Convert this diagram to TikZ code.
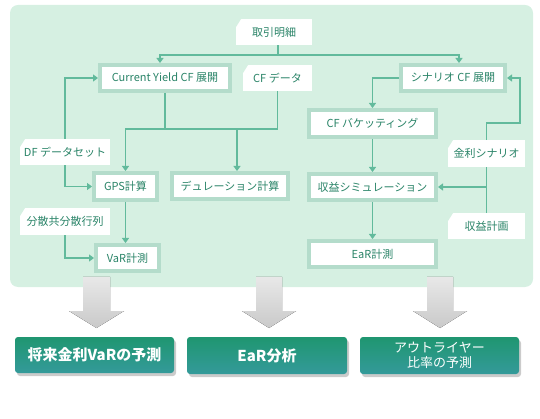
\documentclass[tikz,border=0pt]{standalone}
\usepackage{fontspec}
\setmainfont{Noto Sans CJK JP}
\usetikzlibrary{arrows.meta,shadows}
\definecolor{panel}{HTML}{D6F0E2}
\definecolor{frame}{HTML}{B4DCCB}
\definecolor{wirec}{HTML}{62BA9C}
\definecolor{ink}{HTML}{2A8468}
\definecolor{deep}{HTML}{1F9670}
\definecolor{pale}{HTML}{349A9A}

\begin{document}
\begin{tikzpicture}[x=1pt, y=-1pt,
	proc/.style={draw=frame, line width=4pt, fill=white, text=ink, inner sep=0pt, font=\fontsize{11pt}{12pt}\selectfont},
	src/.style={fill=white, text=ink, inner sep=0pt, font=\fontsize{11pt}{12pt}\selectfont,
		path picture={\fill[panel] (path picture bounding box.north west) -- ++(5pt,0) -- ++(-5pt,-8pt) -- cycle;}},
	result/.style={rounded corners=3pt, top color=deep, bottom color=pale, text=white, align=center, inner sep=0pt,
		minimum width=159pt, minimum height=36pt, font=\bfseries\fontsize{15pt}{17pt}\selectfont,
		drop shadow={shadow xshift=2pt, shadow yshift=-3pt, fill=black!45, opacity=.45}},
	wire/.style={draw=wirec, line width=1.2pt},
	flow/.style={wire, -{Triangle[width=7pt,length=5pt]}},
	bigarrow/.style={top color=black!9, bottom color=black!21}]
	\useasboundingbox (0,0) rectangle (540,419);
	\fill[panel, rounded corners=8pt] (10,5) rectangle (533,287);
	% gray arrows down to the results
	\fill[bigarrow] (83,277) -- (110,277) -- (110,311) -- (124,311) -- (96.5,328) -- (69,311) -- (83,311) -- cycle;
	\fill[bigarrow] (256,277) -- (282,277) -- (282,311) -- (296,311) -- (269,328) -- (242,311) -- (256,311) -- cycle;
	\fill[bigarrow] (427,277) -- (453,277) -- (453,311) -- (467,311) -- (440,328) -- (413,311) -- (427,311) -- cycle;
	% inputs
	\node[src, minimum width=76pt, minimum height=26pt] (trade) at (274,32) {取引明細};
	\node[src, minimum width=69pt, minimum height=26pt] (cfdata) at (277.5,78) {CF データ};
	\node[src, minimum width=90pt, minimum height=26pt] (dfset) at (65,152) {DF データセット};
	\node[src, minimum width=90pt, minimum height=27pt] (covmat) at (65,221.5) {分散共分散行列};
	\node[src, minimum width=77pt, minimum height=27pt] (rscen) at (486.5,153.5) {金利シナリオ};
	\node[src, minimum width=77pt, minimum height=26pt] (plan) at (486.5,226) {収益計画};
	% steps
	\node[proc, minimum width=130pt, minimum height=26pt] (cyield) at (165,78) {Current Yield CF 展開};
	\node[proc, minimum width=104pt, minimum height=26pt] (scen) at (453,78) {シナリオ CF 展開};
	\node[proc, minimum width=127pt, minimum height=27pt] (bucket) at (372.5,123.5) {CF バケッティング};
	\node[proc, minimum width=63pt, minimum height=27pt] (gps) at (125.5,186.5) {GPS計算};
	\node[proc, minimum width=116pt, minimum height=26pt] (dur) at (230,186) {デュレーション計算};
	\node[proc, minimum width=127pt, minimum height=26pt] (sim) at (372.5,187) {収益シミュレーション};
	\node[proc, minimum width=63pt, minimum height=26pt] (var) at (127.5,258) {VaR計測};
	\node[proc, minimum width=127pt, minimum height=26pt] (ear) at (372.5,254) {EaR計測};
	% results
	\node[result] (fvar) at (94.5,355) {将来金利VaRの予測};
	\node[result, minimum width=160pt, minimum height=37pt] (eara) at (267,355.5) {EaR分析};
	\node[result, minimum height=37pt, font=\fontsize{13pt}{14.5pt}\selectfont] (outl) at (439.5,355.5) {アウトライヤー\\比率の予測};
	% connectors
	\coordinate (tj) at (278,55);
	\coordinate (cj) at (164,129);
	\coordinate (rj) at (520,123);
	\draw[wire] ([xshift=4pt]trade.south) -- (tj);
	\draw[flow] (tj) -| ([xshift=-5pt]cyield.north);
	\draw[flow] (tj) -| ([xshift=6pt]scen.north);
	\draw[wire] (cyield.south) -- (cyield.south |- cj);
	\draw[flow] (cfdata.south) |- (gps.north |- cj) -- (gps.north);
	\draw[flow] ([xshift=7pt]dur.north |- cj) -- ([xshift=7pt]dur.north);
	\draw[flow] (dfset.north) |- (cyield.west);
	\draw[flow] (dfset.south) |- (gps.west);
	\draw[flow] (covmat.south) |- (var.west);
	\draw[flow] (gps.south) -- (gps.south |- var.north);
	\draw[flow] (scen.west) -| (bucket.north);
	\draw[flow] (bucket) -- (sim);
	\draw[flow] (sim) -- (ear);
	\draw[flow] (rscen.north) |- (rj) |- (scen.east);
	\draw[wire] (rscen) -- (plan);
	\draw[flow] (rscen.south |- sim.east) -- (sim.east);
\end{tikzpicture}
\end{document}
